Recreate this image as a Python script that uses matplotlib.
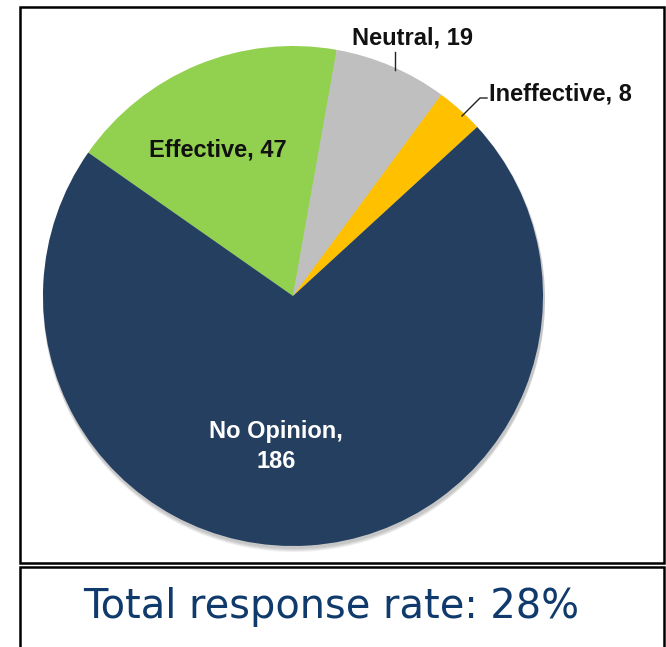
import matplotlib
matplotlib.use("Agg")
import matplotlib.pyplot as plt
from matplotlib.patches import Rectangle, Circle

categories = ["Effective", "Neutral", "Ineffective", "No Opinion"]
values = [47, 19, 8, 186]
colors = ["#92D050", "#BFBFBF", "#FFC000", "#243F60"]
footer = "Total response rate: 28%"

W, H = 666, 647
fig = plt.figure(figsize=(W / 100, H / 100), dpi=100)
ax = fig.add_axes([0, 0, 1, 1])

def Y(y):
    return H - y

# boxes
ax.add_patch(Rectangle((20, Y(563)), 644, 556, fill=False, edgecolor="black", linewidth=1.8))
ax.add_patch(Rectangle((20, Y(660)), 644, 93, fill=False, edgecolor="black", linewidth=1.8))

cx, cy, r = 293, Y(296), 250
# soft shadow
for i in range(4):
    ax.add_patch(Circle((cx + 1, cy - 2 - i), r + 1, color="black", alpha=0.06, linewidth=0))

ax.pie(values, colors=colors, startangle=145, counterclock=False,
       center=(cx, cy), radius=r, frame=True,
       wedgeprops=dict(linewidth=0))
ax.set_xlim(0, W)
ax.set_ylim(0, H)
ax.set_aspect("equal")
ax.axis("off")

fs = 17
font = "Liberation Sans"
dark = "#111111"
ax.text(217.5, Y(157), f"{categories[0]}, {values[0]}", ha="center", va="baseline",
        fontsize=fs, fontweight="bold", family=font, color=dark)
ax.text(412.5, Y(45), f"{categories[1]}, {values[1]}", ha="center", va="baseline",
        fontsize=fs, fontweight="bold", family=font, color=dark)
ax.plot([395, 395], [Y(52), Y(70)], color="#222222", linewidth=1)
ax.text(489, Y(100), f"{categories[2]}, {values[2]}", ha="left", va="baseline",
        fontsize=fs, fontweight="bold", family=font, color=dark)
ax.plot([487, 480, 462], [Y(98), Y(98), Y(116)], color="#222222", linewidth=1)
ax.text(276, Y(438), f"{categories[3]},", ha="center", va="baseline",
        fontsize=fs, fontweight="bold", family=font, color="white")
ax.text(276, Y(468), f"{values[3]}", ha="center", va="baseline",
        fontsize=fs, fontweight="bold", family=font, color="white")

ax.text(331, Y(618), footer, ha="center", va="baseline", fontsize=28.7,
        family="DejaVu Sans", color="#0F3A6B")

fig.savefig("out.png", dpi=100)
